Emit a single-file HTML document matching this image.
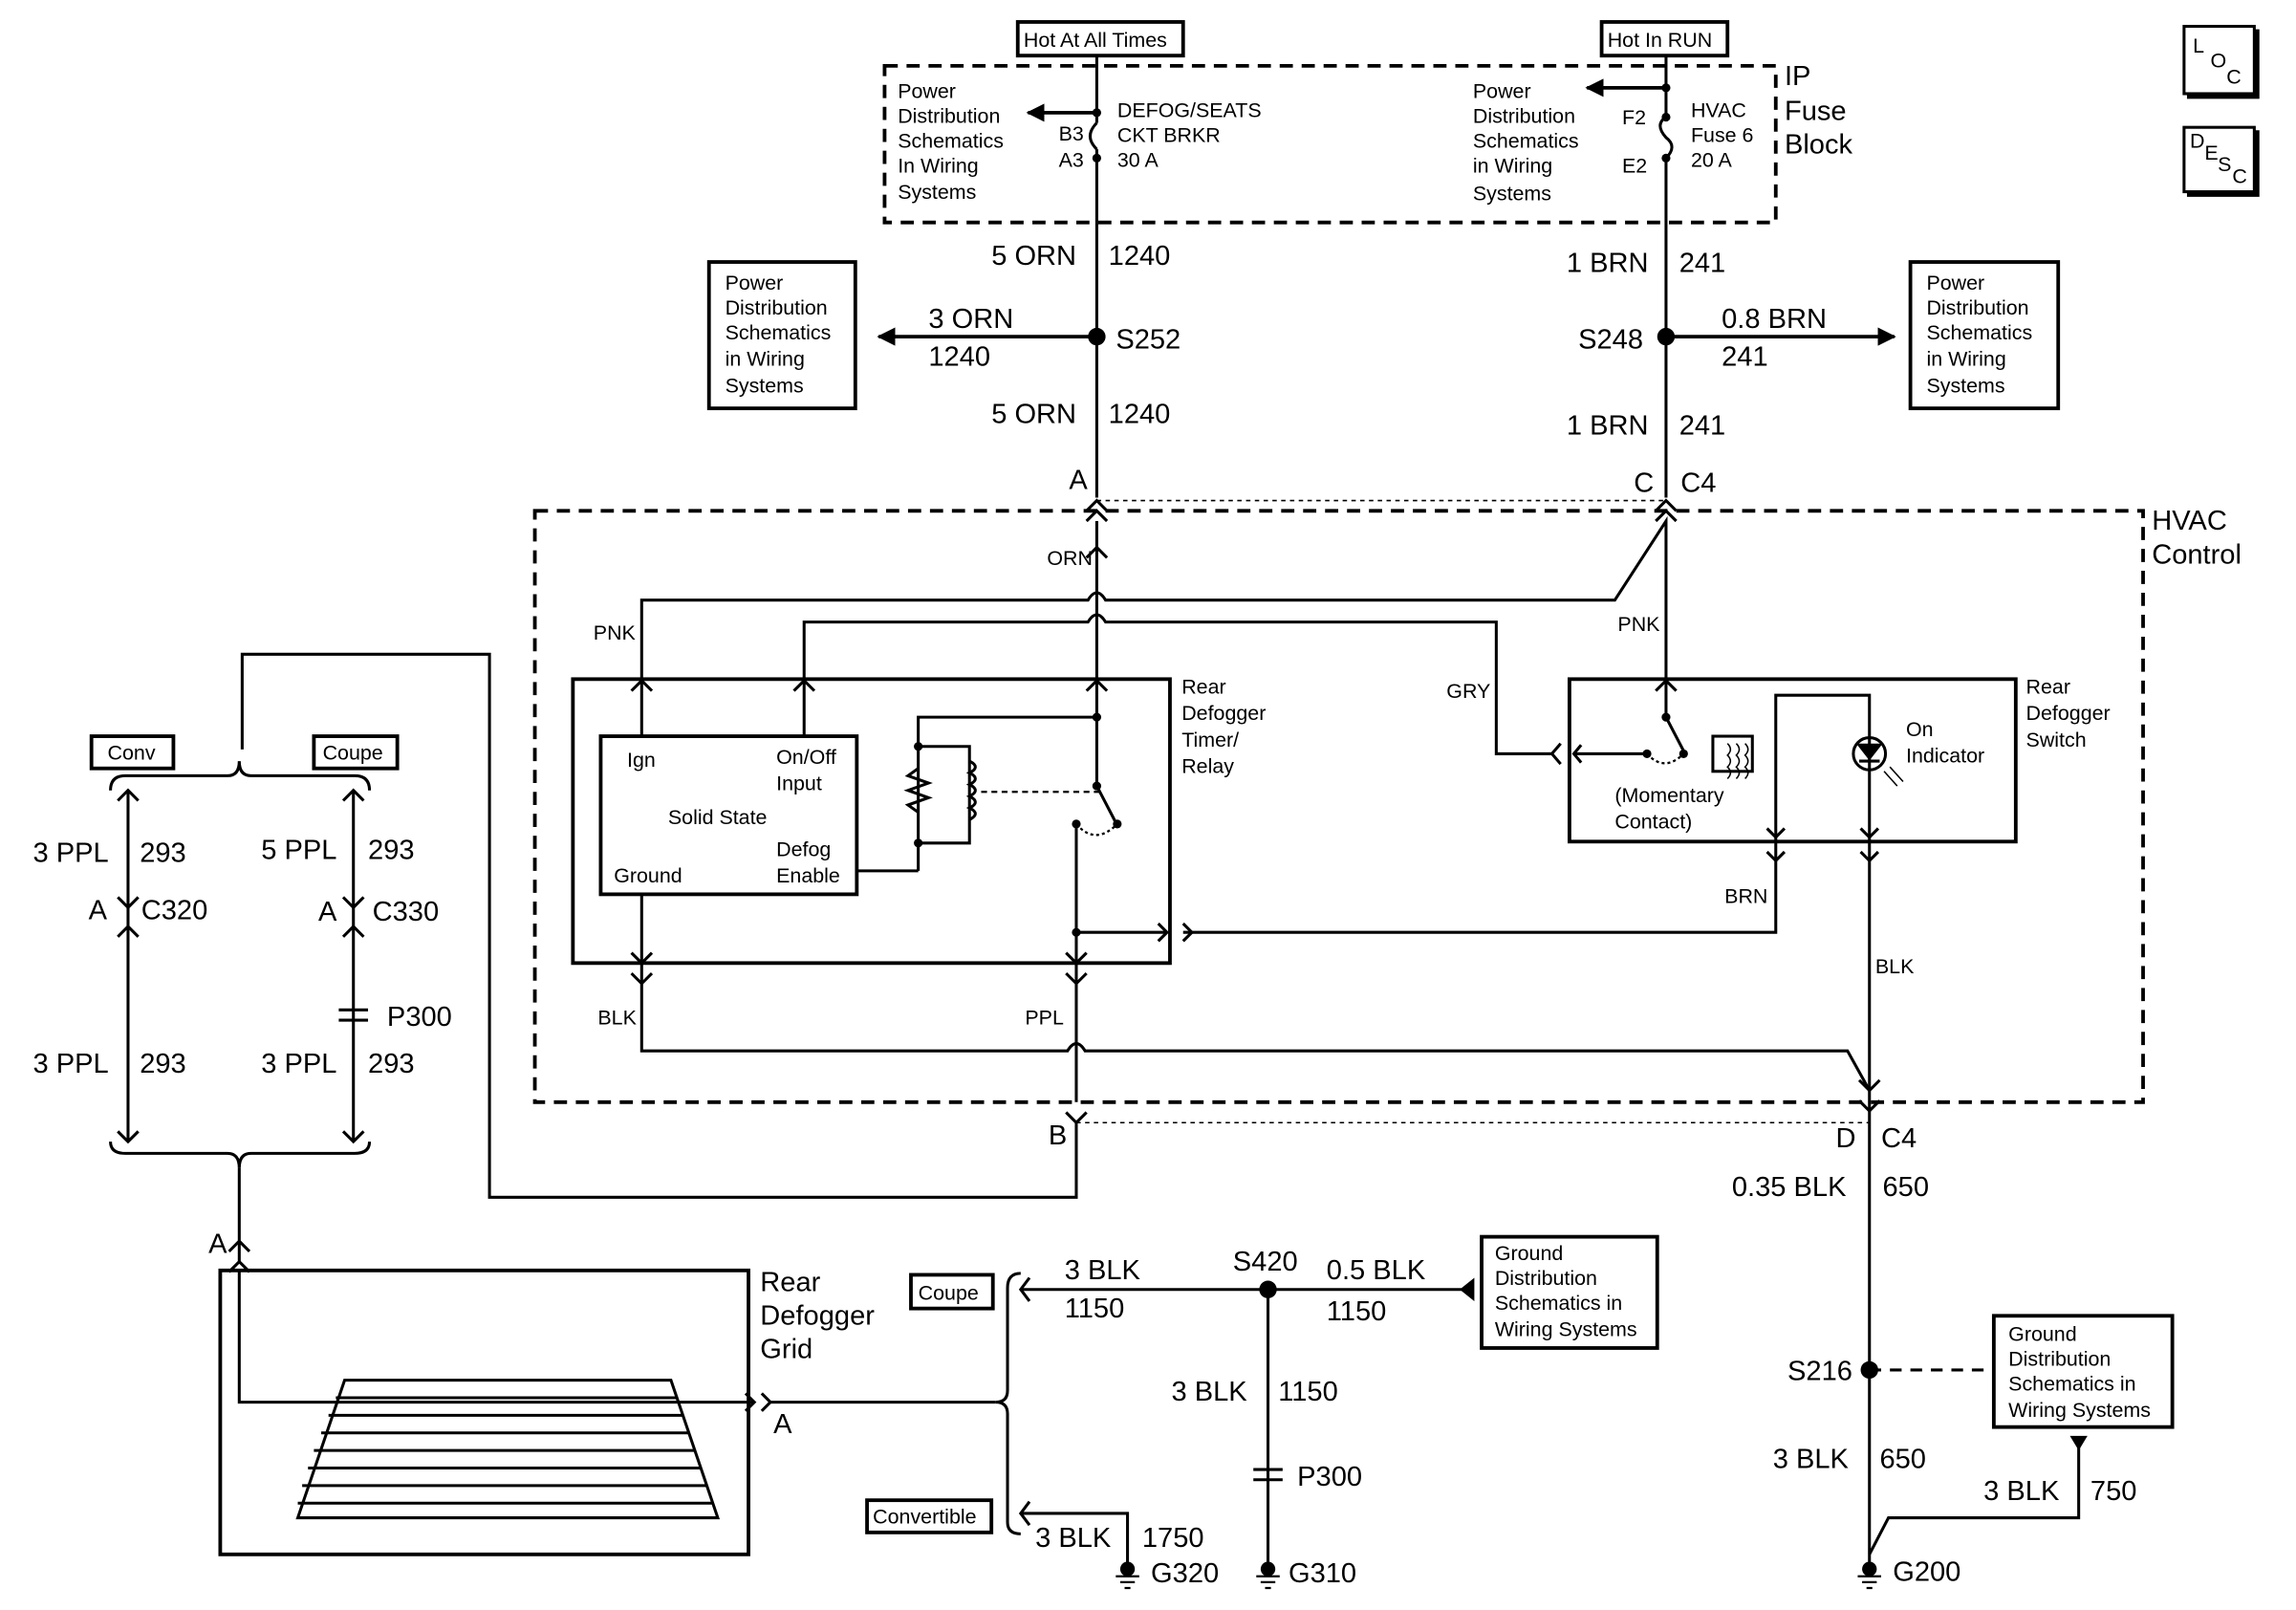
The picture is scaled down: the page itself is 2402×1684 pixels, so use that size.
<!DOCTYPE html>
<html><head><meta charset="utf-8"><style>
html,body{margin:0;padding:0;background:#fff}
svg{display:block}
text{font-family:"Liberation Sans Narrow","Liberation Sans",sans-serif;fill:#000}
.s{font-size:14px}
.m{font-size:19px}
.l{font-size:20px}
</style></head><body>
<svg width="2402" height="1684" viewBox="0 0 1568 1100" xmlns="http://www.w3.org/2000/svg">
<defs>
<marker id="ah" viewBox="0 0 10 10" refX="9" refY="5" markerWidth="5" markerHeight="5" orient="auto"><path d="M0,0L10,5L0,10z"/></marker>
</defs>
<g fill="none" stroke="#000" stroke-width="2">
<rect x="695" y="15" width="113" height="23" stroke-width="2.5"/>
<rect x="1094" y="15" width="86" height="23" stroke-width="2.5"/>
<rect x="604" y="45" width="609" height="107" stroke-dasharray="9,6" stroke-width="2.5"/>
<path d="M749 38V84M749 102V340"/>
<path d="M749 84Q740 93 749 102"/>
<path d="M749 77H702" marker-end="url(#ah)" stroke-width="2.5"/>
<path d="M1138 38V80M1138 108V340"/>
<path d="M1138 80Q1130 85 1138 94Q1146 100 1138 108"/>
<path d="M1138 60H1084" marker-end="url(#ah)" stroke-width="2.5"/>
<path d="M749 230H600" marker-end="url(#ah)" stroke-width="2.5"/>
<path d="M1138 230H1294" marker-end="url(#ah)" stroke-width="2.5"/>
<rect x="484" y="179" width="100" height="100" stroke-width="2.5"/>
<rect x="1305" y="179" width="101" height="100" stroke-width="2.5"/>
<path d="M749 342H1138" stroke-dasharray="3,3" stroke-width="1"/>
<rect x="365" y="349" width="1099" height="404" stroke-dasharray="9,6" stroke-width="2.5"/>
<path d="M742 349L749 342L756 349M742 356L749 349L756 356"/>
<path d="M1131 349L1138 342L1145 349M1131 356L1138 349L1145 356"/>
<path d="M749 356V465"/>
<path d="M742 472L749 465L756 472M742 381L749 374L756 381"/>
<path d="M438 465V410H743Q749 400 755 410H1103L1138 356V465"/>
<path d="M431 472L438 465L445 472M1131 472L1138 465L1145 472"/>
<path d="M549 465V425H743Q749 415 755 425H1022V515H1060"/>
<path d="M542 472L549 465L556 472M1066 508L1060 515L1066 522"/>
<rect x="391" y="464" width="408" height="194" stroke-width="2.5"/>
<rect x="410" y="503" width="175" height="108" stroke-width="2.5"/>
<path d="M438 503V465M549 503V465"/>
<path d="M749 465V537M749 490H627V576M627 595H585M627 576V595"/>
<path d="M627 510H662V576H627"/>
<path d="M627 525L620 530L634 535L620 540L634 545L620 550L627 555"/>
<path d="M662 520q8 4 0 8q8 4 0 8q8 4 0 8q8 4 0 8q8 4 0 8" />
<path d="M670 541H752" stroke-dasharray="4,3" stroke-width="1.5"/>
<path d="M749 537L762 562"/>
<path d="M735 563Q748 578 763 563" stroke-dasharray="2,2" stroke-width="1.5"/>
<path d="M735 563V753M735 637H797"/>
<path d="M791 631L797 637L791 643M808 631L814 637L808 643"/>
<path d="M808 637H1213V575"/>
<path d="M438 611V718H729Q735 708 741 718H1262L1277 745"/>
<path d="M431 651L438 658L445 651M431 665L438 672L445 665"/>
<path d="M728 651L735 658L742 651M728 665L735 672L742 665"/>
<rect x="1072" y="464" width="305" height="111" stroke-width="2.5"/>
<path d="M1138 465V490L1150 513M1125 515H1075"/>
<path d="M1125 515Q1137 528 1150 515" stroke-dasharray="2,2" stroke-width="1.5"/>
<path d="M1080 509L1075 515L1080 521"/>
<rect x="1170" y="503" width="27" height="24"/>
<path d="M1180 508q4 4 0 8q4 4 0 8q4 4 0 8M1186 508q4 4 0 8q4 4 0 8q4 4 0 8M1192 508q4 4 0 8q4 4 0 8q4 4 0 8" stroke-width="1"/>
<path d="M1213 575V475H1277V575"/>
<circle cx="1277" cy="515" r="11"/>
<path d="M1270 509H1284L1277 518Z" fill="#000"/>
<path d="M1270 520H1284"/>
<path d="M1287 527L1296 537M1291 524L1300 534" stroke-width="1"/>
<path d="M1207 566L1213 572L1219 566M1271 566L1277 572L1283 566"/>
<path d="M1207 582L1213 588L1219 582M1271 582L1277 588L1283 582"/>
<path d="M1277 575V1075"/>
<path d="M1270 738L1277 745L1284 738M1270 752L1277 759L1284 752"/>
<path d="M728 760L735 767L742 760"/>
<path d="M735 767H1277" stroke-dasharray="3,3" stroke-width="1"/>
<path d="M735 767V818H334V447H165V512"/>
<rect x="62" y="503" width="56" height="22" stroke-width="2.5"/>
<rect x="214" y="503" width="57" height="22" stroke-width="2.5"/>
<path d="M75 540Q75 530 85 530H155Q163 530 163 520Q163 530 171 530H242Q252 530 252 540"/>
<path d="M87 540V780M241 540V780"/>
<path d="M80 547L87 540L94 547M234 547L241 540L248 547"/>
<path d="M80 613L87 620L94 613M80 640L87 633L94 640"/>
<path d="M234 613L241 620L248 613M234 640L241 633L248 640"/>
<path d="M231 690H251M231 697H251"/>
<path d="M80 773L87 780L94 773M234 773L241 780L248 773"/>
<path d="M75 780Q75 788 85 788H155Q163 788 163 798Q163 788 171 788H242Q252 788 252 780"/>
<path d="M163 798V862M156 869L163 862L170 869M156 855L163 848L170 855"/>
<rect x="150" y="868" width="361" height="194" stroke-width="2.5"/>
<path d="M163 868V958H515"/>
<path d="M509 952L515 958L509 964M520 952L526 958L520 964"/>
<path d="M235 943H458L490 1037H203Z"/>
<path d="M229 955H462M224 967H466M219 979H470M214 991H474M210 1003H478M206 1015H482M203 1027H486"/>
<path d="M526 958H680"/>
<path d="M697 870Q688 870 688 880V950Q688 958 680 958Q688 958 688 966V1040Q688 1048 697 1048"/>
<rect x="622" y="871" width="56" height="23" stroke-width="2.5"/>
<rect x="592" y="1025" width="85" height="22" stroke-width="2.5"/>
<path d="M703 873L697 881L703 889M703 1026L697 1034L703 1042"/>
<path d="M697 881H1000M697 1034H770V1072"/>
<path d="M1007 873V889L997 881Z" fill="#000" stroke="none"/>
<rect x="1012" y="845" width="120" height="76" stroke-width="2.5"/>
<path d="M866 881V1072"/>
<path d="M856 1004H876M856 1011H876"/>
<path d="M1277 936H1355" stroke-dasharray="8,6"/>
<rect x="1362" y="899" width="122" height="76" stroke-width="2.5"/>
<path d="M1420 984V1037H1290L1277 1062"/>
</g>
<g>
<path d="M1414 981H1426L1420 991Z"/>
<circle cx="749" cy="230" r="6"/><circle cx="1138" cy="230" r="6"/>
<circle cx="866" cy="881" r="6"/><circle cx="1277" cy="936" r="6"/>
<circle cx="749" cy="77" r="3"/><circle cx="749" cy="108" r="3"/>
<circle cx="1138" cy="60" r="3"/><circle cx="1138" cy="80" r="3"/><circle cx="1138" cy="108" r="3"/>
<circle cx="749" cy="490" r="3"/><circle cx="749" cy="537" r="3"/><circle cx="763" cy="563" r="3"/><circle cx="735" cy="563" r="3"/>
<circle cx="735" cy="637" r="3"/><circle cx="627" cy="510" r="3"/><circle cx="627" cy="576" r="3"/>
<circle cx="1138" cy="490" r="3"/><circle cx="1150" cy="515" r="3"/><circle cx="1125" cy="515" r="3"/>
<circle cx="770" cy="1072" r="5"/><circle cx="866" cy="1072" r="5"/><circle cx="1277" cy="1072" r="5"/>
<path d="M762 1077H778M765 1081H775M768 1085H772M858 1077H874M861 1081H871M864 1085H868M1269 1077H1285M1272 1081H1282M1275 1085H1279" stroke="#000" stroke-width="1.5"/>
</g>
<g fill="none" stroke="#000" stroke-width="2">
<rect x="1492" y="18" width="48" height="46"/><path d="M1542 20V66H1494" stroke-width="3"/>
<rect x="1492" y="87" width="48" height="44"/><path d="M1542 89V133H1494" stroke-width="3"/>
</g>
<text class="s" x="1498" y="36">L</text><text class="s" x="1510" y="46">O</text><text class="s" x="1521" y="57">C</text>
<text class="s" x="1496" y="101">D</text><text class="s" x="1506" y="109">E</text><text class="s" x="1515" y="117">S</text><text class="s" x="1525" y="125">C</text>
<g class="s">
<text x="699" y="32">Hot At All Times</text>
<text x="1098" y="32">Hot In RUN</text>
<text x="613" y="67">Power</text><text x="613" y="84">Distribution</text><text x="613" y="101">Schematics</text><text x="613" y="118">In Wiring</text><text x="613" y="136">Systems</text>
<text x="763" y="80">DEFOG/SEATS</text><text x="763" y="97">CKT BRKR</text><text x="763" y="114">30 A</text>
<text x="723" y="96">B3</text><text x="723" y="114">A3</text>
<text x="1006" y="67">Power</text><text x="1006" y="84">Distribution</text><text x="1006" y="101">Schematics</text><text x="1006" y="118">in Wiring</text><text x="1006" y="137">Systems</text>
<text x="1108" y="85">F2</text><text x="1108" y="118">E2</text>
<text x="1155" y="80">HVAC</text><text x="1155" y="97">Fuse 6</text><text x="1155" y="114">20 A</text>
<text x="495" y="198">Power</text><text x="495" y="215">Distribution</text><text x="495" y="232">Schematics</text><text x="495" y="250">in Wiring</text><text x="495" y="268">Systems</text>
<text x="1316" y="198">Power</text><text x="1316" y="215">Distribution</text><text x="1316" y="232">Schematics</text><text x="1316" y="250">in Wiring</text><text x="1316" y="268">Systems</text>
<text x="715" y="386">ORN</text><text x="405" y="437">PNK</text><text x="1105" y="431">PNK</text><text x="988" y="477">GRY</text>
<text x="807" y="474">Rear</text><text x="807" y="492">Defogger</text><text x="807" y="510">Timer/</text><text x="807" y="528">Relay</text>
<text x="428" y="524">Ign</text><text x="530" y="522">On/Off</text><text x="530" y="540">Input</text><text x="456" y="563">Solid State</text>
<text x="530" y="585">Defog</text><text x="530" y="603">Enable</text><text x="419" y="603">Ground</text>
<text x="1384" y="474">Rear</text><text x="1384" y="492">Defogger</text><text x="1384" y="510">Switch</text>
<text x="1302" y="503">On</text><text x="1302" y="521">Indicator</text>
<text x="1103" y="548">(Momentary</text><text x="1103" y="566">Contact)</text>
<text x="1178" y="617">BRN</text><text x="1281" y="665">BLK</text><text x="408" y="700">BLK</text><text x="700" y="700">PPL</text>
<text x="73" y="519">Conv</text><text x="220" y="519">Coupe</text>
<text x="627" y="888">Coupe</text><text x="596" y="1041">Convertible</text>
<text x="1021" y="861">Ground</text><text x="1021" y="878">Distribution</text><text x="1021" y="895">Schematics in</text><text x="1021" y="913">Wiring Systems</text>
<text x="1372" y="916">Ground</text><text x="1372" y="933">Distribution</text><text x="1372" y="950">Schematics in</text><text x="1372" y="968">Wiring Systems</text>
</g>
<g class="m">
<text x="1219" y="58">IP</text><text x="1219" y="82">Fuse</text><text x="1219" y="105">Block</text>
<text x="1470" y="362">HVAC</text><text x="1470" y="385">Control</text>
<text x="677" y="181">5 ORN</text><text x="757" y="181">1240</text>
<text x="634" y="224">3 ORN</text><text x="634" y="250">1240</text><text x="762" y="238">S252</text>
<text x="677" y="289">5 ORN</text><text x="757" y="289">1240</text>
<text x="730" y="334">A</text><text x="1116" y="336">C</text><text x="1148" y="336">C4</text>
<text x="1070" y="186">1 BRN</text><text x="1147" y="186">241</text><text x="1078" y="238">S248</text>
<text x="1176" y="224">0.8 BRN</text><text x="1176" y="250">241</text>
<text x="1070" y="297">1 BRN</text><text x="1147" y="297">241</text>
<text x="716" y="782">B</text><text x="1254" y="784">D</text><text x="1285" y="784">C4</text>
<text x="1183" y="817">0.35 BLK</text><text x="1286" y="817">650</text>
<text x="1221" y="943">S216</text><text x="1211" y="1003">3 BLK</text><text x="1284" y="1003">650</text>
<text x="1355" y="1025">3 BLK</text><text x="1428" y="1025">750</text><text x="1293" y="1080">G200</text>
<text x="22" y="589">3 PPL</text><text x="95" y="589">293</text><text x="178" y="587">5 PPL</text><text x="251" y="587">293</text>
<text x="60" y="628">A</text><text x="96" y="628">C320</text><text x="217" y="629">A</text><text x="254" y="629">C330</text>
<text x="264" y="701">P300</text>
<text x="22" y="733">3 PPL</text><text x="95" y="733">293</text><text x="178" y="733">3 PPL</text><text x="251" y="733">293</text>
<text x="142" y="856">A</text>
<text x="519" y="882">Rear</text><text x="519" y="905">Defogger</text><text x="519" y="928">Grid</text>
<text x="528" y="979">A</text>
<text x="727" y="874">3 BLK</text><text x="727" y="900">1150</text><text x="842" y="868">S420</text>
<text x="906" y="874">0.5 BLK</text><text x="906" y="902">1150</text>
<text x="800" y="957">3 BLK</text><text x="873" y="957">1150</text><text x="886" y="1015">P300</text>
<text x="707" y="1057">3 BLK</text><text x="780" y="1057">1750</text>
<text x="786" y="1081">G320</text><text x="880" y="1081">G310</text>
</g>
</svg>
</body></html>
